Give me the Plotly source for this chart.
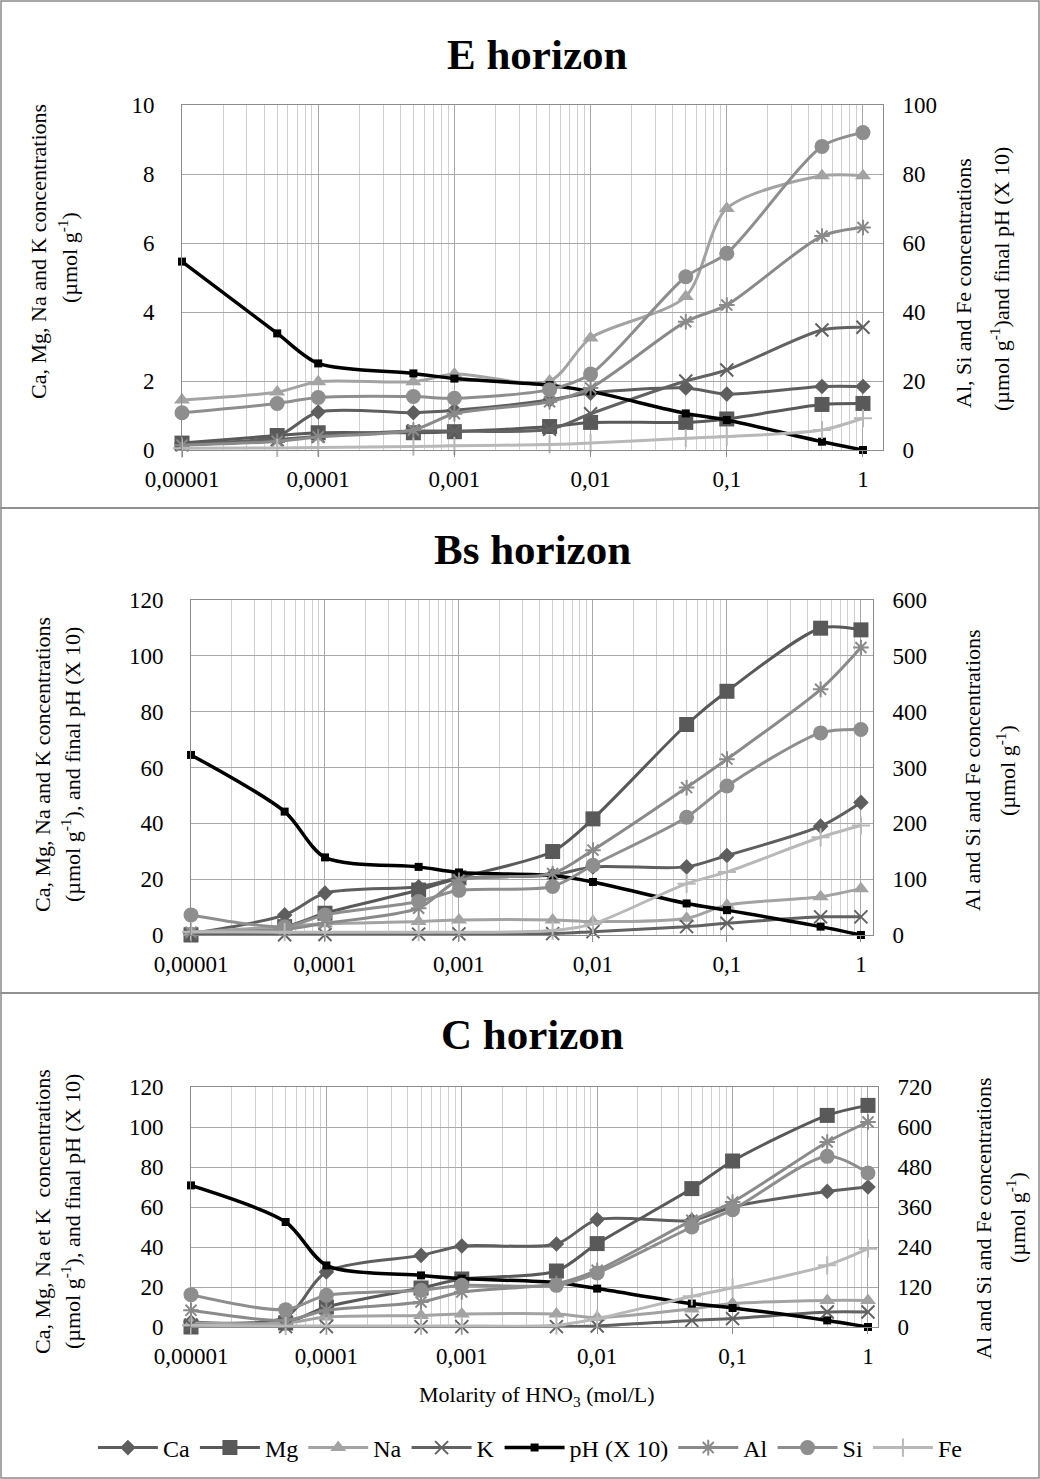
import plotly.graph_objects as go

W, H = 1040, 1479

# HNO3 molarity of each extraction step (mol/L)
molarity = [1e-5, 5e-5, 1e-4, 5e-4, 1e-3, 5e-3, 1e-2, 5e-2, 1e-1, 5e-1, 1]
tick_vals = [1e-5, 1e-4, 1e-3, 1e-2, 1e-1, 1]
tick_text = ["0,00001", "0,0001", "0,001", "0,01", "0,1", "1"]

# ---- E horizon (pH x10 on the right axis) ----
ca_E = [0.2, 0.4, 1.1, 1.08, 1.15, 1.45, 1.65, 1.8, 1.62, 1.84, 1.84]
mg_E = [0.2, 0.42, 0.5, 0.5, 0.53, 0.68, 0.8, 0.8, 0.9, 1.32, 1.35]
na_E = [1.45, 1.68, 1.98, 1.98, 2.2, 2.0, 3.25, 4.45, 7.0, 7.95, 7.95]
k_E = [0.15, 0.3, 0.4, 0.55, 0.55, 0.6, 1.05, 2.0, 2.32, 3.48, 3.56]
ph_E = [54.6, 33.8, 25.1, 22.2, 20.7, 18.8, 17.0, 10.6, 8.7, 2.4, 0.0]
al_E = [1.4, 2.5, 3.8, 5.8, 10.5, 14.0, 18.0, 37.2, 42.0, 62.0, 64.5]
si_E = [10.8, 13.5, 15.2, 15.5, 15.0, 17.5, 22.0, 50.2, 57.0, 88.0, 92.0]
fe_E = [0.5, 0.6, 0.7, 1.0, 1.2, 1.6, 2.0, 3.4, 3.9, 5.8, 9.2]

# ---- Bs horizon (pH x10 on the left axis) ----
ca_B = [0.5, 7.2, 15.0, 17.3, 20.3, 21.5, 24.4, 24.4, 28.5, 39.0, 47.5]
mg_B = [0.0, 3.0, 7.8, 16.1, 20.5, 29.9, 41.6, 75.4, 87.3, 109.9, 109.3]
na_B = [1.0, 3.0, 4.0, 4.8, 5.4, 5.4, 4.8, 6.0, 10.7, 13.7, 16.6]
k_B = [0.5, 0.1, 0.2, 0.3, 0.4, 0.5, 1.2, 3.0, 4.2, 6.5, 6.5]
ph_B = [64.5, 44.2, 27.8, 24.4, 22.4, 21.3, 19.0, 11.3, 8.9, 3.0, 0.0]
al_B = [5, 10, 21, 48, 98, 110, 152, 264, 315, 440, 515]
si_B = [36, 15, 36, 60, 80, 87, 125, 211, 267, 362, 368]
fe_B = [6, 5, 5, 5, 5, 8, 20, 92, 113, 175, 196]

# ---- C horizon (pH x10 on the left axis) ----
ca_C = [2.5, 5.0, 27.5, 35.8, 40.5, 41.5, 53.7, 53.3, 60.0, 67.8, 70.0]
mg_C = [0.0, 2.0, 10.0, 19.5, 24.0, 28.0, 41.7, 69.2, 83.0, 105.8, 110.8]
na_C = [2.0, 2.0, 5.0, 5.8, 6.5, 6.5, 4.7, 9.0, 11.7, 13.3, 13.3]
k_C = [1.0, 0.2, 0.2, 0.2, 0.2, 0.2, 0.5, 3.3, 4.2, 7.5, 7.5]
ph_C = [70.8, 52.5, 30.8, 25.8, 24.2, 22.2, 19.2, 11.7, 9.5, 3.3, 0.0]
al_C = [50, 20, 50, 75, 105, 130, 170, 320, 375, 555, 615]
si_C = [97, 52, 95, 110, 125, 125, 162, 300, 352, 512, 462]
fe_C = [5, 3, 3, 3, 3, 5, 25, 92, 118, 185, 235]

FONT = "Liberation Serif"

# series styling: name -> (colour, symbol, marker size, line width)
STYLE = {
    "Ca": ("#5e5e5e", "diamond", 12, 3),
    "Mg": ("#595959", "square", 15, 3),
    "Na": ("#a3a3a3", "triangle-up", 14, 3),
    "K": ("#626262", "x-thin", 13, 3),
    "pH (X 10)": ("#000000", "square", 8, 3.5),
    "Al": ("#8a8a8a", "asterisk", 13, 3),
    "Si": ("#8e8e8e", "circle", 15, 3),
    "Fe": ("#b8b8b8", "cross-thin", 13, 3),
}

fig = go.Figure()


def px_x(p):
    return p / W


def px_y(p):
    return 1 - p / H


def add_series(name, values, xa, ya, legend):
    col, sym, size, lw = STYLE[name]
    marker = dict(symbol=sym, size=size, color=col)
    if sym in ("x-thin", "asterisk", "cross-thin"):
        marker["line"] = dict(width=2, color=col)
    else:
        marker["line"] = dict(width=0)
    fig.add_trace(go.Scatter(
        x=molarity, y=values, name=name, mode="lines+markers",
        line=dict(color=col, width=lw, shape="spline", smoothing=0.8),
        marker=marker, xaxis=xa, yaxis=ya, showlegend=legend,
        cliponaxis=False,
    ))


panels = [
    # E horizon
    dict(box=(182, 883, 105, 450), xr=0.147, left=10, ldt=2, right=100, rdt=20,
         left_series=[("Ca", ca_E), ("Mg", mg_E), ("Na", na_E), ("K", k_E)],
         right_series=[("pH (X 10)", ph_E), ("Al", al_E), ("Si", si_E), ("Fe", fe_E)]),
    # Bs horizon
    dict(box=(191, 873, 600, 935), xr=0.09, left=120, ldt=20, right=600, rdt=100,
         left_series=[("Ca", ca_B), ("Mg", mg_B), ("Na", na_B), ("K", k_B), ("pH (X 10)", ph_B)],
         right_series=[("Al", al_B), ("Si", si_B), ("Fe", fe_B)]),
    # C horizon
    dict(box=(191, 878, 1087, 1327), xr=0.074, left=120, ldt=20, right=720, rdt=120,
         left_series=[("Ca", ca_C), ("Mg", mg_C), ("Na", na_C), ("K", k_C), ("pH (X 10)", ph_C)],
         right_series=[("Al", al_C), ("Si", si_C), ("Fe", fe_C)]),
]

minor_vals = [m * 10 ** e for e in range(-5, 0) for m in range(2, 10)]
legend_order = ["Ca", "Mg", "Na", "K", "pH (X 10)", "Al", "Si", "Fe"]
tick_font = dict(family=FONT, size=23, color="#000")

layout_axes = {}
for i, p in enumerate(panels):
    x0, x1, yt, yb = p["box"]
    xn = "" if i == 0 else str(i + 1)
    yl = "" if i == 0 else str(2 * i + 1)
    yr = str(2 * i + 2)
    layout_axes["xaxis" + xn] = dict(
        type="log", range=[-5, p["xr"]], domain=[px_x(x0), px_x(x1)],
        anchor="y" + yl, tickvals=tick_vals, ticktext=tick_text,
        showgrid=True, gridcolor="#a8a8a8", gridwidth=1,
        minor=dict(tickvals=minor_vals, showgrid=True, gridcolor="#cfcfcf", gridwidth=1, ticks=""),
        showline=True, linecolor="#8c8c8c", linewidth=1, mirror=True,
        ticks="outside", ticklen=6, tickcolor="#8c8c8c", ticklabelstandoff=2,
        tickfont=tick_font, zeroline=False, automargin=False,
    )
    layout_axes["yaxis" + yl] = dict(
        domain=[px_y(yb), px_y(yt)], range=[0, p["left"]], dtick=p["ldt"],
        anchor="x" + xn, showgrid=True, gridcolor="#a8a8a8", zeroline=False,
        showline=True, linecolor="#8c8c8c", ticks="", ticklabelstandoff=22,
        tickfont=tick_font, automargin=False,
    )
    layout_axes["yaxis" + yr] = dict(
        overlaying="y" + yl, side="right", range=[0, p["right"]], dtick=p["rdt"],
        anchor="x" + xn, showgrid=False, zeroline=False,
        showline=True, linecolor="#8c8c8c", ticks="", ticklabelstandoff=14,
        tickfont=tick_font, automargin=False,
    )
    # keep legend entries in the conventional element order
    series = {n: ("y" + yl, v) for n, v in p["left_series"]}
    series.update({n: ("y" + yr, v) for n, v in p["right_series"]})
    for n in legend_order:
        ya, v = series[n]
        add_series(n, v, "x" + xn, ya, legend=(i == 2))

fig.update_layout(template="none", **layout_axes)

annotations = []


def text_at(txt, x, y, size=22, angle=0, bold=False):
    annotations.append(dict(
        text=("<b>%s</b>" % txt) if bold else txt, x=px_x(x), y=px_y(y),
        xref="paper", yref="paper", showarrow=False, textangle=angle,
        font=dict(family=FONT, size=size, color="#000"),
        xanchor="center", yanchor="middle",
    ))


UNIT = "(µmol g<sup>-1</sup>)"

# panel titles
text_at("E horizon", 537, 54, size=43, bold=True)
text_at("Bs horizon", 532, 549, size=43, bold=True)
text_at("C horizon", 532, 1034, size=43, bold=True)

# left axis titles (two rotated lines each)
text_at("Ca, Mg, Na and K concentrations", 38, 252, angle=-90)
text_at(UNIT, 68, 258, angle=-90)
text_at("Ca, Mg, Na and K concentrations", 42, 765, angle=-90)
text_at(UNIT + ", and final pH (X 10)", 71, 765, angle=-90)
text_at("Ca, Mg, Na et K  concentrations", 42, 1212, angle=-90)
text_at(UNIT + ", and final pH (X 10)", 71, 1212, angle=-90)

# right axis titles
text_at("Al, Si and Fe concentrations", 964, 283, angle=-90)
text_at(UNIT + "and final pH (X 10)", 1000, 279, angle=-90)
text_at("Al and Si and Fe concentrations", 972, 770, angle=-90)
text_at(UNIT, 1006, 771, angle=-90)
text_at("Al and Si and Fe concentrations", 983, 1218, angle=-90)
text_at(UNIT, 1016, 1218, angle=-90)

# shared x axis title
text_at("Molarity of HNO<sub>3</sub> (mol/L)", 537, 1396, size=22)

# frames around the three charts
shapes = []
for top, bot in [(1, 508), (508, 993), (993, 1478)]:
    shapes.append(dict(type="rect", xref="paper", yref="paper",
                       x0=px_x(1), x1=px_x(1039), y0=px_y(bot), y1=px_y(top),
                       line=dict(color="#8a8a8a", width=1.5)))

fig.update_layout(
    width=W, height=H, margin=dict(l=0, r=0, t=0, b=0, pad=0), autosize=False,
    paper_bgcolor="white", plot_bgcolor="white",
    annotations=annotations, shapes=shapes,
    font=dict(family=FONT, size=22, color="#000"),
    legend=dict(orientation="h", x=0.51, xanchor="center", y=px_y(1448), yanchor="middle",
                font=dict(family=FONT, size=24, color="#000"),
                itemwidth=60, bgcolor="rgba(0,0,0,0)", tracegroupgap=0),
)

fig.write_html("out.html")
